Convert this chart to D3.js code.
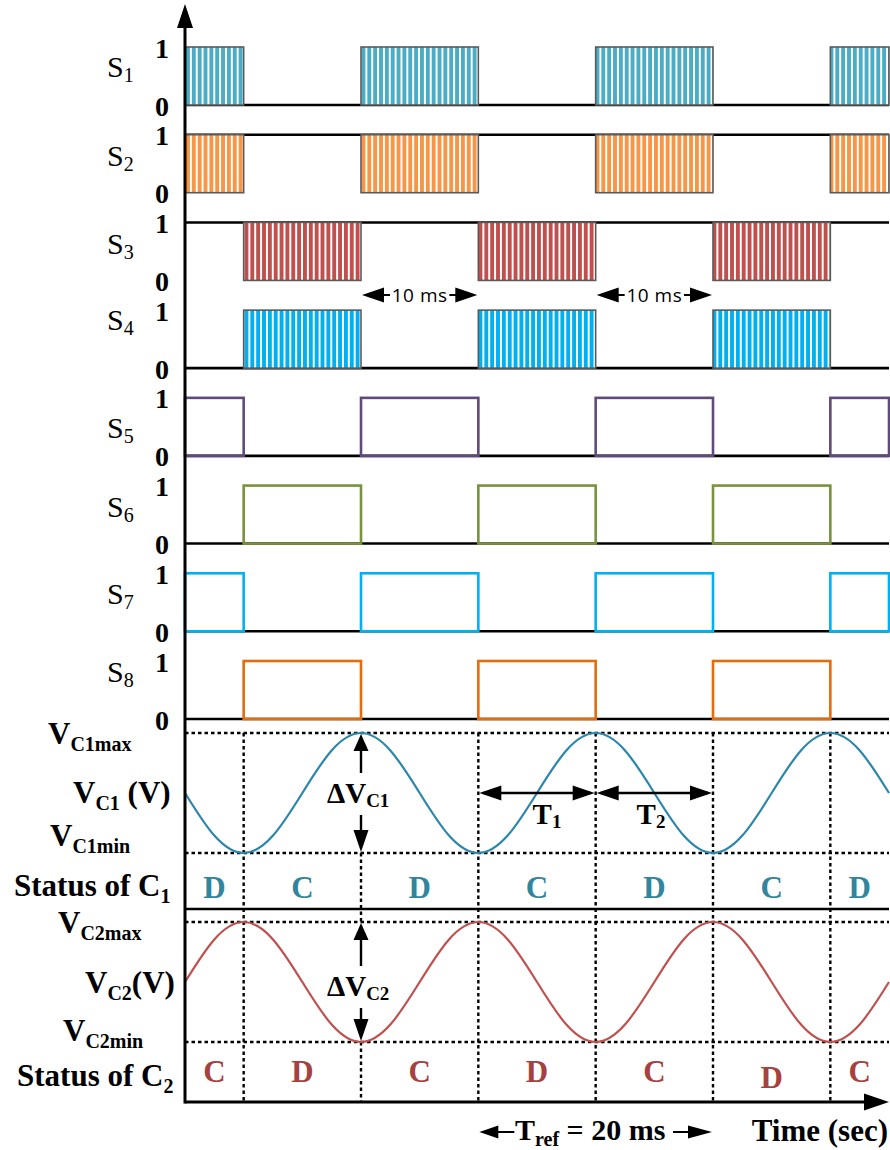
<!DOCTYPE html>
<html>
<head>
<meta charset="utf-8">
<script src="https://cdn.jsdelivr.net/npm/d3@7"></script>
<style>
  body { margin: 0; background: #fff; }
  svg { display: block; }
  text { font-family: "Liberation Serif", "Times New Roman", serif; font-weight: bold; }
</style>
</head>
<body>
<svg id="chart" width="890" height="1150"></svg>
<script>
// ---- switching signals S1..S8 ----
const switchSubs     = ["1", "2", "3", "4", "5", "6", "7", "8"];
const switchColors   = ["#4BACC6", "#F79646", "#C0504D", "#00B0F0", "#604A7B", "#77933C", "#00B0F0", "#E46C0A"];
const switchHatched  = [true, true, true, true, false, false, false, false];
const switchIdle     = [0, 1, 1, 0, 0, 0, 0, 0];          // level drawn between pulses
const switchGroup    = ["A", "A", "B", "B", "A", "B", "A", "B"];
const onIntervalsA   = [[0, 5], [15, 25], [35, 45], [55, 60]];   // ms
const onIntervalsB   = [[5, 15], [25, 35], [45, 55]];            // ms
const levelTicks     = [0, 1];

// ---- capacitor voltages, normalised (-1 = min, +1 = max) ----
const timeSamples = [0, 2.5, 5, 7.5, 10, 12.5, 15, 17.5, 20, 22.5, 25, 27.5, 30,
                     32.5, 35, 37.5, 40, 42.5, 45, 47.5, 50, 52.5, 55, 57.5, 60];
const vC1 = [0, -0.71, -1, -0.71, 0, 0.71, 1, 0.71, 0, -0.71, -1, -0.71, 0,
             0.71, 1, 0.71, 0, -0.71, -1, -0.71, 0, 0.71, 1, 0.71, 0];
const vC2 = [0, 0.71, 1, 0.71, 0, -0.71, -1, -0.71, 0, 0.71, 1, 0.71, 0,
             -0.71, -1, -0.71, 0, 0.71, 1, 0.71, 0, -0.71, -1, -0.71, 0];
const segmentEdges = [0, 5, 15, 25, 35, 45, 55, 60];     // ms, charge/discharge boundaries
const statusC1 = ["D", "C", "D", "C", "D", "C", "D"];
const statusC2 = ["C", "D", "C", "D", "C", "D", "C"];
const deltaTime = 15;                                     // ms, where ripple is marked

// ---- layout ----
const svg = d3.select("#chart");
const x = d3.scaleLinear().domain([0, 60]).range([185, 889]);
const rowTop = d3.scaleLinear().domain([0, 7]).range([47, 661]);
const rowH = 58;
const yC1 = d3.scaleLinear().domain([-1, 1]).range([853, 733]);
const yC2 = d3.scaleLinear().domain([-1, 1]).range([1042, 922]);
const axisX = x(0), axisBottom = 1102;
const labelDy = [30, 31, 32, 20, 40, 31, 31, 21];
const teal = "#31859C", brick = "#A5423F";
const capBlue = "#2A86AB", capRed = "#C0504D";

const defs = svg.append("defs");
switchColors.forEach((c, i) => {
  if (!switchHatched[i]) return;
  const p = defs.append("pattern")
    .attr("id", "hatch" + i)
    .attr("patternUnits", "userSpaceOnUse")
    .attr("x", x(0) + 1)
    .attr("width", 5.85).attr("height", 10);
  p.append("rect").attr("width", 5.85).attr("height", 10).attr("fill", "#fff");
  p.append("rect").attr("width", 3.9).attr("height", 10).attr("fill", c);
});

function tri(g, tipX, tipY, dir, len, half) {
  // filled arrow head; dir is "l", "r", "u" or "d"
  let pts;
  if (dir === "r") pts = [[tipX, tipY], [tipX - len, tipY - half], [tipX - len, tipY + half]];
  if (dir === "l") pts = [[tipX, tipY], [tipX + len, tipY - half], [tipX + len, tipY + half]];
  if (dir === "u") pts = [[tipX, tipY], [tipX - half, tipY + len], [tipX + half, tipY + len]];
  if (dir === "d") pts = [[tipX, tipY], [tipX - half, tipY - len], [tipX + half, tipY - len]];
  g.append("path").attr("d", "M" + pts.join("L") + "Z").attr("fill", "#000");
}

// ---- switch rows ----
const rows = svg.append("g");
switchSubs.forEach((sub, i) => {
  const top = rowTop(i);
  const yl = d3.scaleLinear().domain([0, 1]).range([top + rowH, top]);
  const g = rows.append("g");
  const intervals = switchGroup[i] === "A" ? onIntervalsA : onIntervalsB;

  // idle level line
  g.append("line")
    .attr("x1", x(0)).attr("x2", x(60))
    .attr("y1", yl(switchIdle[i])).attr("y2", yl(switchIdle[i]))
    .attr("stroke", "#000").attr("stroke-width", 2.6);

  // pulses
  g.selectAll("rect.pulse").data(intervals).join("rect")
    .attr("class", "pulse")
    .attr("x", d => x(d[0])).attr("width", d => x(d[1]) - x(d[0]))
    .attr("y", yl(1)).attr("height", yl(0) - yl(1))
    .attr("fill", switchHatched[i] ? "url(#hatch" + i + ")" : "none")
    .attr("stroke", switchHatched[i] ? "#5a5a5a" : switchColors[i])
    .attr("stroke-width", switchHatched[i] ? 1.6 : 2.6);

  // 0 / 1 level ticks
  const ax = d3.axisLeft(yl).tickValues(levelTicks).tickFormat(d3.format("d"))
    .tickSize(0).tickPadding(16);
  const axG = g.append("g").attr("transform", `translate(${axisX},0)`).call(ax);
  axG.select(".domain").remove();
  axG.selectAll("text")
    .style("font-size", "28px").attr("fill", "#000").attr("dy", "0.36em");

  // S label
  const t = g.append("text").attr("x", 107).attr("y", top + labelDy[i])
    .style("font-weight", "normal").attr("font-size", 30);
  t.append("tspan").text("S");
  t.append("tspan").attr("font-size", 20).attr("dy", 5).text(sub);
});

// ---- "10 ms" spans ----
[[15, 25], [35, 45]].forEach(([a, b]) => {
  const g = svg.append("g");
  const y = 295, xa = x(a), xb = x(b);
  tri(g, xa + 1, y, "l", 22, 7.5);
  tri(g, xb - 1, y, "r", 22, 7.5);
  g.append("line").attr("x1", xa + 20).attr("x2", xa + 29).attr("y1", y).attr("y2", y)
    .attr("stroke", "#000").attr("stroke-width", 2);
  g.append("line").attr("x1", xb - 29).attr("x2", xb - 20).attr("y1", y).attr("y2", y)
    .attr("stroke", "#000").attr("stroke-width", 2);
  g.append("text").attr("x", (xa + xb) / 2).attr("y", y + 7)
    .attr("text-anchor", "middle")
    .style("font-family", "'Open Sans', 'Liberation Sans', sans-serif")
    .style("font-weight", "normal").attr("font-size", 19)
    .attr("letter-spacing", 0.5).text("10 ms");
});

// ---- panel separators ----
svg.append("line").attr("x1", x(0)).attr("x2", x(60)).attr("y1", 909).attr("y2", 909)
  .attr("stroke", "#000").attr("stroke-width", 2.6);

// ---- dotted guides ----
const guides = svg.append("g").attr("stroke", "#000").attr("stroke-width", 2.4)
  .attr("stroke-dasharray", "3.5,3");
[yC1(1), yC1(-1), yC2(1), yC2(-1)].forEach(y => {
  guides.append("line").attr("x1", x(0)).attr("x2", x(60)).attr("y1", y).attr("y2", y);
});
segmentEdges.slice(1, -1).forEach(t => {
  // the ripple arrows replace the guide inside both voltage bands
  const pieces = t === deltaTime
    ? [[yC1(-1), yC2(1)], [yC2(-1), axisBottom]]
    : [[yC1(1), axisBottom]];
  pieces.forEach(([y1, y2]) => {
    guides.append("line").attr("x1", x(t)).attr("x2", x(t)).attr("y1", y1).attr("y2", y2);
  });
});

// ---- capacitor voltage curves ----
const lineC1 = d3.line().x((d, i) => x(timeSamples[i])).y(d => yC1(d)).curve(d3.curveNatural);
const lineC2 = d3.line().x((d, i) => x(timeSamples[i])).y(d => yC2(d)).curve(d3.curveNatural);
svg.append("path").attr("d", lineC1(vC1)).attr("fill", "none").attr("stroke", capBlue).attr("stroke-width", 2.2);
svg.append("path").attr("d", lineC2(vC2)).attr("fill", "none").attr("stroke", capRed).attr("stroke-width", 2.2);

// ---- charge / discharge status ----
const mids = segmentEdges.slice(0, -1).map((a, i) => (a + segmentEdges[i + 1]) / 2);
svg.append("g").selectAll("text").data(statusC1).join("text")
  .attr("x", (d, i) => x(mids[i])).attr("y", 898).attr("text-anchor", "middle")
  .attr("font-size", 31).attr("fill", teal).text(d => d);
svg.append("g").selectAll("text").data(statusC2).join("text")
  .attr("x", (d, i) => x(mids[i])).attr("y", (d, i) => i === 5 ? 1088 : 1082).attr("text-anchor", "middle")
  .attr("font-size", 31).attr("fill", brick).text(d => d);

// ---- ΔV annotations ----
const ann = svg.append("g");
function deltaV(g, xc, yTop, yBot, yLabel, sub) {
  tri(g, xc, yTop + 1, "u", 17, 7.5);
  g.append("line").attr("x1", xc).attr("x2", xc).attr("y1", yTop + 15).attr("y2", yLabel - 30)
    .attr("stroke", "#000").attr("stroke-width", 2.4);
  tri(g, xc, yBot - 1, "d", 22, 7.5);
  g.append("line").attr("x1", xc).attr("x2", xc).attr("y1", yLabel + 12).attr("y2", yBot - 20)
    .attr("stroke", "#000").attr("stroke-width", 2.4);
  const t = g.append("text").attr("x", xc - 34).attr("y", yLabel).attr("font-size", 29);
  t.append("tspan").text("ΔV");
  t.append("tspan").attr("font-size", 19).attr("dy", 4).text(sub);
}
deltaV(ann, x(deltaTime), yC1(1), yC1(-1), 803, "C1");
deltaV(ann, x(deltaTime), yC2(1), yC2(-1), 996, "C2");

// ---- T1 / T2 spans ----
[[25, 35, "1", 547], [35, 45, "2", 651]].forEach(([a, b, sub, lx]) => {
  const y = 793, xa = x(a), xb = x(b);
  ann.append("line").attr("x1", xa + 5).attr("x2", xb - 5).attr("y1", y).attr("y2", y)
    .attr("stroke", "#000").attr("stroke-width", 2.4);
  tri(ann, xa + 1, y, "l", 22, 7.5);
  tri(ann, xb - 1, y, "r", 22, 7.5);
  const t = ann.append("text").attr("x", lx).attr("y", 824).attr("text-anchor", "middle").attr("font-size", 29);
  t.append("tspan").text("T");
  t.append("tspan").attr("font-size", 19).attr("dy", 4).text(sub);
});

// ---- axes ----
const axes = svg.append("g");
axes.append("line").attr("x1", axisX).attr("x2", axisX).attr("y1", 20).attr("y2", axisBottom + 1.5)
  .attr("stroke", "#000").attr("stroke-width", 3);
tri(axes, axisX, 4, "u", 24, 8);
axes.append("line").attr("x1", axisX).attr("x2", 870).attr("y1", axisBottom).attr("y2", axisBottom)
  .attr("stroke", "#000").attr("stroke-width", 3);
tri(axes, 889, axisBottom, "r", 25, 8.5);

// ---- left-hand labels ----
const left = svg.append("g");
function vLabel(xp, y, main, sub, tail) {
  const t = left.append("text").attr("x", xp).attr("y", y).attr("font-size", 31);
  t.append("tspan").text(main);
  t.append("tspan").attr("font-size", 20).attr("dy", 7).text(sub);
  if (tail) t.append("tspan").attr("dy", -7).attr("font-size", 31).text(tail);
}
vLabel(48, 744, "V", "C1max");
vLabel(73, 803, "V", "C1", " (V)");
vLabel(50, 846, "V", "C1min");
vLabel(14, 896, "Status of C", "1");
vLabel(58, 933, "V", "C2max");
vLabel(85, 993, "V", "C2", "(V)");
vLabel(63, 1041, "V", "C2min");
vLabel(17, 1086, "Status of C", "2");

// ---- reference period and time label ----
const bot = svg.append("g");
const yr = 1132;
tri(bot, x(25) + 1, yr, "l", 19, 6.5);
bot.append("line").attr("x1", x(25) + 18).attr("x2", x(25) + 36).attr("y1", yr).attr("y2", yr)
  .attr("stroke", "#000").attr("stroke-width", 2);
tri(bot, x(45) - 1, yr, "r", 24, 6.5);
bot.append("line").attr("x1", x(45) - 40).attr("x2", x(45) - 22).attr("y1", yr).attr("y2", yr)
  .attr("stroke", "#000").attr("stroke-width", 2);
const tr = bot.append("text").attr("x", 515).attr("y", 1140).attr("font-size", 30);
tr.append("tspan").text("T");
tr.append("tspan").attr("font-size", 20).attr("dy", 6).text("ref");
tr.append("tspan").attr("dy", -6).text(" = 20 ms");
bot.append("text").attr("x", 888).attr("y", 1141).attr("text-anchor", "end")
  .attr("font-size", 31).text("Time (sec)");
</script>
</body>
</html>
